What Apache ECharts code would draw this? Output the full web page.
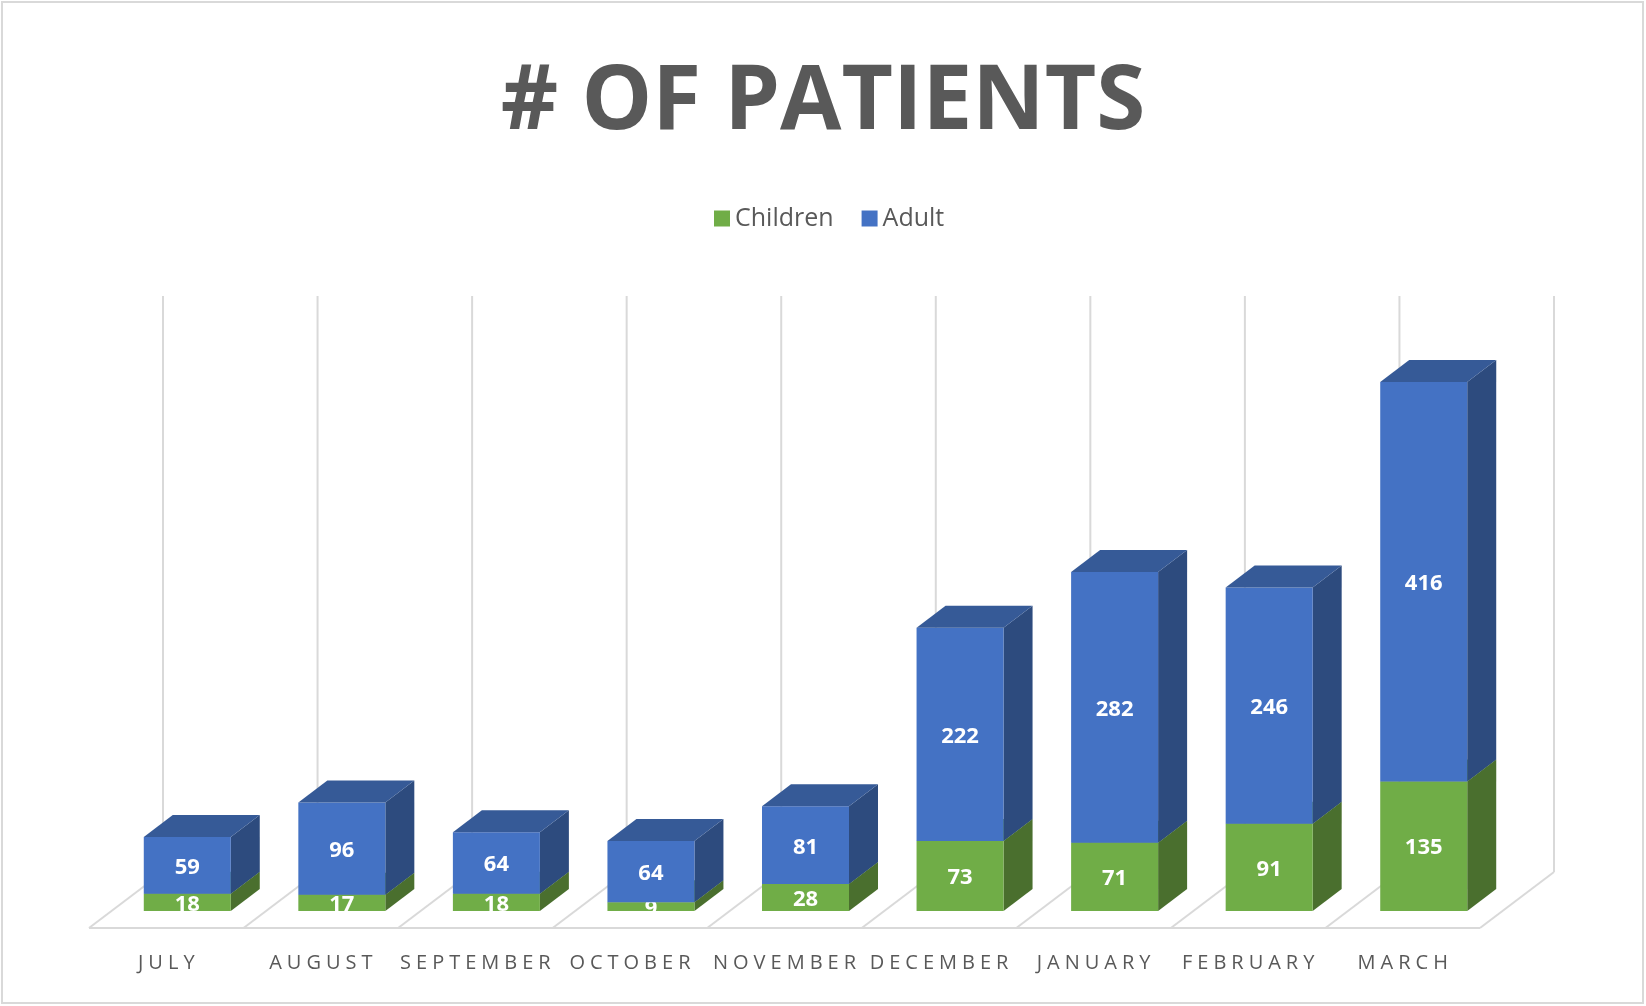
<!DOCTYPE html>
<html>
<head>
<meta charset="utf-8">
<title># OF PATIENTS</title>
<script src="https://cdn.jsdelivr.net/npm/echarts@6.0.0/dist/echarts.min.js"></script>
<style>
  html, body { margin: 0; padding: 0; background: #fff; }
  #chart { width: 1646px; height: 1006px; }
</style>
</head>
<body>
<div id="chart"></div>
<script>
// chart data
const months = ['JULY', 'AUGUST', 'SEPTEMBER', 'OCTOBER', 'NOVEMBER', 'DECEMBER', 'JANUARY', 'FEBRUARY', 'MARCH'];
const children = [18, 17, 18, 9, 28, 73, 71, 91, 135];
const adult = [59, 96, 64, 64, 81, 222, 282, 246, 416];
const valueMax = 600;

// 3D look (pixels)
const BAR_W = 87;
const BAR_SHIFT = 21;       // bars sit a bit behind the front edge of the floor
const DEPTH_X = 29;         // box depth
const DEPTH_Y = 22;
const FLOOR_FRONT = 17;     // floor front edge below bar bottoms
const FLOOR_X = 74;         // floor depth
const FLOOR_Y = 56;
const LABEL_SPACING = 5;    // letter spacing of month labels

const GRID_COLOR = '#D9D9D9';
const TEXT_COLOR = '#595959';
const FONT = 'Open Sans';

const colors = {
    Children: { front: '#70AD47', side: '#4A6F2E', top: '#5B8F3A' },
    Adult: { front: '#4472C4', side: '#2D4B7E', top: '#365A97' }
};

// canvas letter spacing for the month labels (20px regular text only)
const nativeFillText = CanvasRenderingContext2D.prototype.fillText;
CanvasRenderingContext2D.prototype.fillText = function (text, x, y, maxWidth) {
    if (/(^|\s)20px/.test(this.font) && !/bold|[6-9]00/.test(this.font)) {
        this.letterSpacing = LABEL_SPACING + 'px';
        nativeFillText.call(this, text, x + LABEL_SPACING / 2, y);
        this.letterSpacing = '0px';
        return;
    }
    if (maxWidth === undefined) {
        return nativeFillText.call(this, text, x, y);
    }
    return nativeFillText.call(this, text, x, y, maxWidth);
};

/**
 * floor lines and the vertical grid lines behind the bars
 */
function renderFloor(params, api) {
    const b = api.value(0);
    const band = api.size([1, 0])[0];
    const p = api.coord([Math.min(b, months.length - 1), 0]);
    const zeroY = p[1];
    const topY = api.coord([0, valueMax])[1];
    const x = p[0] + (b < months.length ? -band / 2 : band / 2);
    const y = zeroY + FLOOR_FRONT;
    const style = { stroke: GRID_COLOR, lineWidth: 2 };
    const children = [
        { type: 'line', shape: { x1: x, y1: y, x2: x + FLOOR_X, y2: y - FLOOR_Y }, style: style },
        { type: 'line', shape: { x1: x + FLOOR_X, y1: y - FLOOR_Y, x2: x + FLOOR_X, y2: y - FLOOR_Y - (zeroY - topY) }, style: style }
    ];
    if (b === 0) {
        children.push({ type: 'line', shape: { x1: x, y1: y, x2: x + band * months.length, y2: y }, style: style });
    }
    return { type: 'group', children: children };
}

/**
 * one box of a stacked bar: front, side and top faces plus the value label
 */
function makeBoxRenderer(name, drawTop) {
    const c = colors[name];
    return function (params, api) {
        const i = api.value(0);
        const base = api.value(1);
        const v = api.value(2);
        const p0 = api.coord([i, base]);
        const p1 = api.coord([i, base + v]);
        const floorY = api.coord([i, 0])[1];
        const cx = p0[0] + BAR_SHIFT;
        const x0 = cx - BAR_W / 2;
        const x1 = cx + BAR_W / 2;
        const yb = p0[1];
        const yt = p1[1];
        const parts = [
            { type: 'polygon', shape: { points: [[x1, yb], [x1 + DEPTH_X, yb - DEPTH_Y], [x1 + DEPTH_X, yt - DEPTH_Y], [x1, yt]] }, style: { fill: c.side } },
            { type: 'rect', shape: { x: x0, y: yt, width: BAR_W, height: yb - yt }, style: { fill: c.front } }
        ];
        if (drawTop) {
            parts.push({ type: 'polygon', shape: { points: [[x0, yt], [x0 + DEPTH_X, yt - DEPTH_Y], [x1 + DEPTH_X, yt - DEPTH_Y], [x1, yt]] }, style: { fill: c.top } });
        }
        parts.push({
            type: 'group',
            clipPath: { type: 'rect', shape: { x: x0 - 20, y: 0, width: BAR_W + 40, height: floorY } },
            children: [{
                type: 'text',
                x: cx,
                y: (yt + yb) / 2 + 2,
                style: {
                    text: String(v),
                    fill: '#FFFFFF',
                    font: 'bold 22px "' + FONT + '"',
                    align: 'center',
                    verticalAlign: 'middle'
                }
            }]
        });
        return { type: 'group', children: parts };
    };
}

const chart = echarts.init(document.getElementById('chart'));

const floorData = months.map((m, i) => [i]).concat([[months.length]]);
const childrenData = children.map((v, i) => [i, 0, v]);
const adultData = adult.map((v, i) => [i, children[i], v]);

const option = {
    backgroundColor: '#FFFFFF',
    animation: false,
    title: {
        text: '# OF PATIENTS',
        left: 'center',
        top: 54,
        textStyle: { fontFamily: FONT, fontSize: 89, fontWeight: 'bold', color: TEXT_COLOR }
    },
    legend: {
        top: 201,
        left: 709,
        icon: 'rect',
        itemWidth: 16,
        itemHeight: 16,
        itemGap: 28,
        textStyle: { fontFamily: FONT, fontSize: 25, color: TEXT_COLOR },
        data: [
            { name: 'Children', itemStyle: { color: colors.Children.front } },
            { name: 'Adult', itemStyle: { color: colors.Adult.front } }
        ]
    },
    grid: { left: 89, right: 166, top: 335, bottom: 95, containLabel: false, outerBoundsMode: 'none' },
    xAxis: {
        type: 'category',
        data: months,
        axisLine: { show: false },
        axisTick: { show: false },
        splitLine: { show: false },
        axisLabel: { interval: 0, margin: 42, fontFamily: FONT, fontSize: 20, color: TEXT_COLOR }
    },
    yAxis: {
        type: 'value',
        min: 0,
        max: valueMax,
        show: false
    },
    graphic: [{
        type: 'rect',
        shape: { x: 2, y: 2, width: 1641, height: 1001 },
        style: { fill: null, stroke: GRID_COLOR, lineWidth: 2 },
        silent: true
    }],
    series: [
        { type: 'custom', name: 'floor', z: 1, renderItem: renderFloor, data: floorData, silent: true },
        { type: 'custom', name: 'Children', z: 2, itemStyle: { color: colors.Children.front }, renderItem: makeBoxRenderer('Children', true), data: childrenData },
        { type: 'custom', name: 'Adult', z: 3, itemStyle: { color: colors.Adult.front }, renderItem: makeBoxRenderer('Adult', true), data: adultData }
    ]
};

chart.setOption(option);
</script>
</body>
</html>
